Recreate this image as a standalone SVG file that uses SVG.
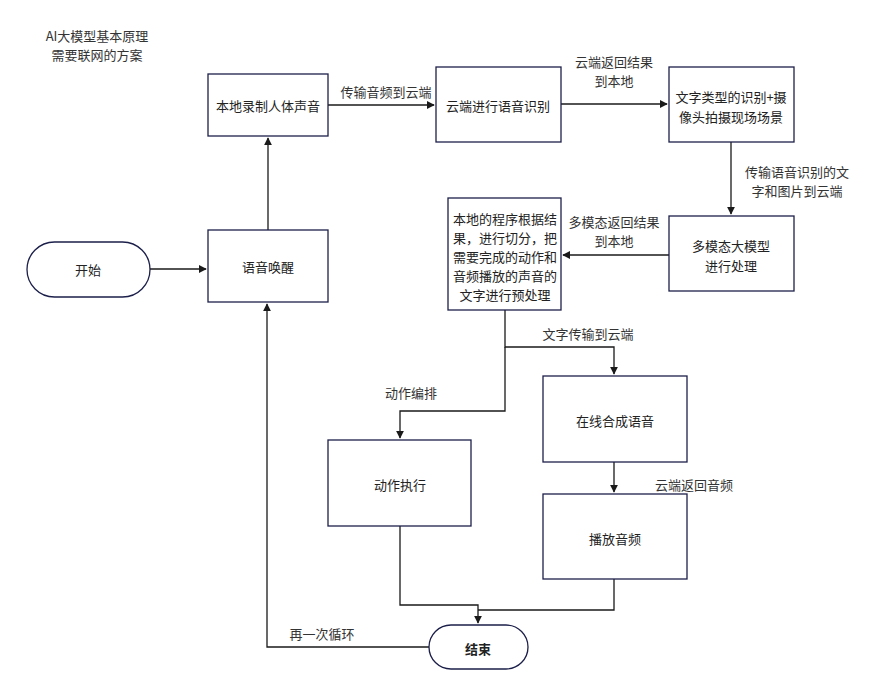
<svg xmlns="http://www.w3.org/2000/svg" width="873" height="693" viewBox="0 0 873 693">
<defs>
<marker id="arr" viewBox="0 0 10 10" refX="9" refY="5" markerWidth="8" markerHeight="8" markerUnits="userSpaceOnUse" orient="auto">
<path d="M0,0 L10,5 L0,10 z" fill="#1a1a1a"/>
</marker>
<style>
.box{fill:#fff;stroke:#1c1f4a;stroke-width:1.3}
.t{font-family:"Noto Sans CJK SC","Liberation Sans",sans-serif;font-size:13px;fill:#222;text-anchor:middle;dominant-baseline:central}
.l{font-family:"Noto Sans CJK SC","Liberation Sans",sans-serif;font-size:13px;fill:#333;text-anchor:middle;dominant-baseline:central}
.c{fill:none;stroke:#1a1a1a;stroke-width:1.3}
</style>
</defs>
<rect width="873" height="693" fill="#fff"/>
<text class="l" x="97" y="35">AI大模型基本原理</text>
<text class="l" x="97" y="54">需要联网的方案</text>
<g id="connectors">
<path class="c" d="M150,269 H206" marker-end="url(#arr)"/>
<path class="c" d="M268,230 V138" marker-end="url(#arr)"/>
<path class="c" d="M328,105 H434" marker-end="url(#arr)"/>
<path class="c" d="M561,104 H667" marker-end="url(#arr)"/>
<path class="c" d="M731,142 V214" marker-end="url(#arr)"/>
<path class="c" d="M669,255 H563" marker-end="url(#arr)"/>
<path class="c" d="M505,310 V347 H614 V374" marker-end="url(#arr)"/>
<path class="c" d="M505,347 V411 H400 V438" marker-end="url(#arr)"/>
<path class="c" d="M614,462 V492" marker-end="url(#arr)"/>
<path class="c" d="M400,526 V605 H478 V623" marker-end="url(#arr)"/>
<path class="c" d="M614,579 V610 H478"/>
<path class="c" d="M429,647 H267 V304" marker-end="url(#arr)"/>
<text class="l" x="386" y="91">传输音频到云端</text>
<text class="l" x="614" y="61">云端返回结果</text>
<text class="l" x="614" y="80">到本地</text>
<text class="l" x="797" y="171">传输语音识别的文</text>
<text class="l" x="797" y="190">字和图片到云端</text>
<text class="l" x="614" y="221">多模态返回结果</text>
<text class="l" x="614" y="240">到本地</text>
<text class="l" x="588" y="333">文字传输到云端</text>
<text class="l" x="411" y="392">动作编排</text>
<text class="l" x="694" y="484">云端返回音频</text>
<text class="l" x="322" y="633">再一次循环</text>
</g>
<g id="start"><rect class="box" x="27" y="242" width="123" height="55" rx="27.5"/><text class="t" x="88" y="269">开始</text></g>
<g id="wake"><rect class="box" x="208" y="230" width="120" height="72"/><text class="t" x="268" y="266">语音唤醒</text></g>
<g id="record"><rect class="box" x="208" y="74" width="120" height="62"/><text class="t" x="268" y="105">本地录制人体声音</text></g>
<g id="asr"><rect class="box" x="436" y="67" width="125" height="75"/><text class="t" x="498" y="105">云端进行语音识别</text></g>
<g id="vision"><rect class="box" x="669" y="67" width="125" height="75"/><text class="t" x="731" y="96">文字类型的识别+摄</text><text class="t" x="731" y="116">像头拍摄现场场景</text></g>
<g id="mllm"><rect class="box" x="669" y="216" width="125" height="75"/><text class="t" x="731" y="245">多模态大模型</text><text class="t" x="731" y="265">进行处理</text></g>
<g id="local"><rect class="box" x="448" y="198" width="113" height="112"/>
<text class="t" x="505" y="218">本地的程序根据结</text>
<text class="t" x="505" y="237">果，进行切分，把</text>
<text class="t" x="505" y="256">需要完成的动作和</text>
<text class="t" x="505" y="275">音频播放的声音的</text>
<text class="t" x="505" y="294">文字进行预处理</text></g>
<g id="tts"><rect class="box" x="543" y="376" width="144" height="86"/><text class="t" x="615" y="420">在线合成语音</text></g>
<g id="play"><rect class="box" x="543" y="494" width="144" height="85"/><text class="t" x="615" y="538">播放音频</text></g>
<g id="action"><rect class="box" x="328" y="440" width="143" height="86"/><text class="t" x="400" y="484">动作执行</text></g>
<g id="end"><rect class="box" x="429" y="625" width="99" height="44" rx="22"/><text class="t" x="478" y="648" font-weight="bold">结束</text></g>
</svg>
